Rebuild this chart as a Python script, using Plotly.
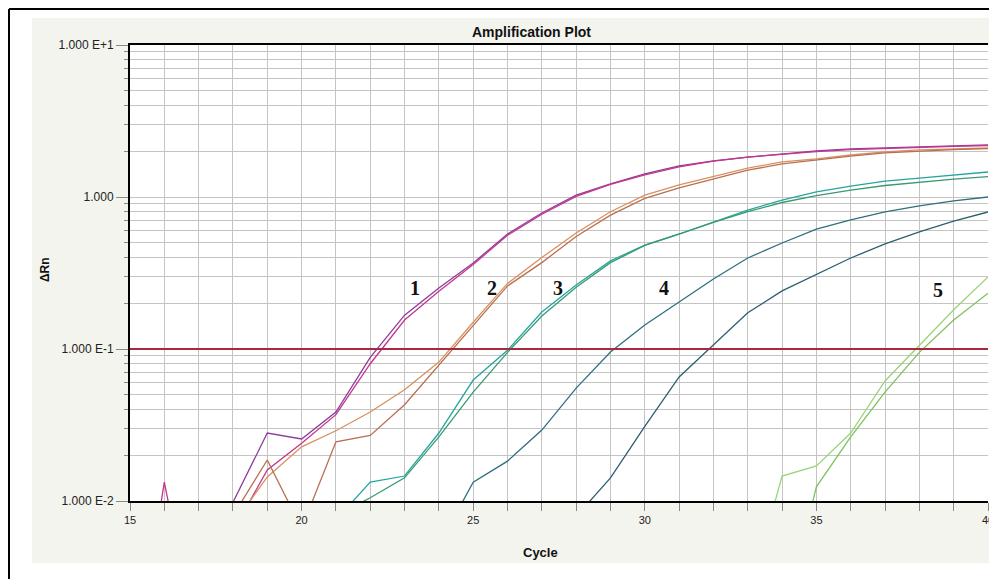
import numpy as np
import plotly.graph_objects as go

# ---------------- data ----------------
cycles = list(range(15, 41))

# sample 1 (two replicates)
s1a = [0.004, 0.005, 0.003, 0.0098, 0.028, 0.0256, 0.0385, 0.088, 0.167, 0.252, 0.368, 0.571, 0.785,
       1.03, 1.22, 1.42, 1.60, 1.73, 1.83, 1.92, 2.01, 2.07, 2.10, 2.13, 2.17, 2.20]
s1b = [0.0005, 0.0133, 0.001, 0.0063, 0.016, 0.024, 0.037, 0.080, 0.155, 0.240, 0.360, 0.560, 0.770,
       1.01, 1.21, 1.40, 1.58, 1.72, 1.83, 1.91, 1.99, 2.05, 2.09, 2.12, 2.15, 2.18]
# sample 2
s2a = [0.003, 0.004, 0.003, 0.007, 0.0144, 0.0227, 0.029, 0.0385, 0.054, 0.082, 0.150, 0.270, 0.400,
       0.580, 0.800, 1.03, 1.20, 1.36, 1.55, 1.70, 1.78, 1.89, 1.98, 2.04, 2.07, 2.10]
s2b = [0.002, 0.003, 0.004, 0.008, 0.0186, 0.0066, 0.0245, 0.027, 0.043, 0.078, 0.142, 0.260, 0.370,
       0.550, 0.760, 0.980, 1.15, 1.32, 1.50, 1.65, 1.75, 1.86, 1.95, 2.01, 2.05, 2.08]
# sample 3
s3a = [0.003, 0.002, 0.004, 0.003, 0.005, 0.004, 0.0075, 0.0133, 0.0146, 0.028, 0.0625, 0.098, 0.175,
       0.264, 0.380, 0.483, 0.571, 0.686, 0.820, 0.955, 1.08, 1.18, 1.27, 1.33, 1.40, 1.46]
s3b = [0.002, 0.003, 0.002, 0.004, 0.003, 0.005, 0.008, 0.0105, 0.0142, 0.0264, 0.052, 0.095, 0.165,
       0.255, 0.370, 0.480, 0.570, 0.680, 0.800, 0.920, 1.02, 1.11, 1.19, 1.25, 1.31, 1.36]
# sample 4
s4a = [0.003, 0.002, 0.003, 0.004, 0.002, 0.003, 0.004, 0.003, 0.004, 0.0051, 0.0133, 0.0183, 0.0293,
       0.0553, 0.0955, 0.144, 0.204, 0.289, 0.397, 0.498, 0.615, 0.706, 0.797, 0.873, 0.942, 1.00]
s4b = [0.002, 0.003, 0.002, 0.003, 0.004, 0.002, 0.003, 0.002, 0.004, 0.003, 0.002, 0.003, 0.004,
       0.0079, 0.0142, 0.031, 0.0655, 0.106, 0.173, 0.241, 0.311, 0.397, 0.491, 0.589, 0.695, 0.797]
# sample 5
s5a = [0.003, 0.002, 0.004, 0.003, 0.002, 0.003, 0.004, 0.002, 0.003, 0.002, 0.004, 0.003, 0.002,
       0.003, 0.004, 0.002, 0.003, 0.002, 0.0022, 0.0146, 0.017, 0.028, 0.0616, 0.106, 0.181, 0.298]
s5b = [0.002, 0.003, 0.002, 0.004, 0.003, 0.002, 0.003, 0.004, 0.002, 0.003, 0.002, 0.004, 0.003,
       0.002, 0.003, 0.002, 0.004, 0.003, 0.002, 0.0015, 0.0124, 0.0264, 0.052, 0.095, 0.155, 0.233]

series = [s1a, s1b, s2a, s2b, s3a, s3b, s4a, s4b, s5a, s5b]
series_colors = ["#8e3c9c", "#c4368c", "#d89060", "#b87050", "#25a5a0", "#3a9a70",
                 "#2f6f7f", "#2d5f70", "#9ad47a", "#80c060"]

threshold = 0.1

ytick_vals = [0.01, 0.1, 1, 10]
ytick_text = ["1.000 E-2", "1.000 E-1", "1.000", "1.000 E+1"]
xtick_labels = [15, 20, 25, 30, 35, 40]

label_text = ["1", "2", "3", "4", "5"]
label_cycle = [23.30, 25.55, 27.47, 30.56, 38.54]
label_rn = [0.252, 0.252, 0.252, 0.252, 0.245]

# ---------------- figure ----------------
W, H = 997, 579
OFF = 8                      # page body margin of the html page
L, R, T, B = 130, 988, 45, 501   # plot area in page pixels
PW, PH = R - L, B - T


def pxx(x):
    return (x - L) / PW


def pxy(y):
    return (B - y) / PH


fig = go.Figure()
for s, c in zip(series, series_colors):
    fig.add_trace(go.Scatter(x=cycles, y=s, mode="lines",
                             line=dict(color=c, width=1.3), showlegend=False, hoverinfo="skip"))

fig.add_trace(go.Scatter(x=[cycles[0], cycles[-1]], y=[threshold, threshold], mode="lines",
                         line=dict(color="#a8283c", width=2), showlegend=False, hoverinfo="skip"))

minor_vals = [k * 10.0 ** e for e in (-2, -1, 0) for k in range(2, 10)]

axis_font = dict(family="Arial, Liberation Sans, sans-serif", size=12, color="#222")

fig.update_layout(
    width=W, height=H,
    margin=dict(l=L - OFF, r=W - (R - OFF), t=T - OFF, b=H - (B - OFF), pad=0),
    paper_bgcolor="white", plot_bgcolor="white",
    showlegend=False,
    xaxis=dict(
        range=[15, 40], tickmode="array", tickvals=cycles,
        ticktext=[str(c) if c in xtick_labels else "" for c in cycles],
        ticks="outside", ticklen=8, tickcolor="#888", tickwidth=1,
        showgrid=True, gridcolor="#c4c4c4", gridwidth=1,
        showline=True, linecolor="black", linewidth=2, mirror=True,
        tickfont=dict(family="Arial, Liberation Sans, sans-serif", size=11, color="#222"),
        zeroline=False,
    ),
    yaxis=dict(
        type="log", range=[-2, 1], tickmode="array", tickvals=ytick_vals, ticktext=ytick_text,
        ticks="outside", ticklen=12, tickcolor="#888", tickwidth=1,
        showgrid=True, gridcolor="#c4c4c4", gridwidth=1,
        showline=True, linecolor="black", linewidth=2, mirror=False,
        tickfont=axis_font,
        minor=dict(tickmode="array", tickvals=minor_vals, ticks="outside", ticklen=4,
                   tickcolor="#888", showgrid=True, gridcolor="#c4c4c4", gridwidth=1),
        zeroline=False,
    ),
)

annotations = []
for t, cx, cy in zip(label_text, label_cycle, label_rn):
    annotations.append(dict(x=cx, y=np.log10(cy), xref="x", yref="y", text="<b>" + t + "</b>",
                            showarrow=False, xanchor="center", yanchor="middle",
                            font=dict(family="Times New Roman, Liberation Serif, serif", size=20,
                                      color="#111")))
annotations.append(dict(x=pxx(531), y=pxy(32), xref="paper", yref="paper",
                        text="<b>Amplification Plot</b>", showarrow=False,
                        xanchor="center", yanchor="middle",
                        font=dict(family="Arial, Liberation Sans, sans-serif", size=14, color="#111")))
annotations.append(dict(x=pxx(540), y=pxy(552), xref="paper", yref="paper",
                        text="<b>Cycle</b>", showarrow=False,
                        xanchor="center", yanchor="middle",
                        font=dict(family="Arial, Liberation Sans, sans-serif", size=13, color="#111")))
annotations.append(dict(x=pxx(45), y=pxy(270), xref="paper", yref="paper",
                        text="<b>ΔRn</b>", showarrow=False, textangle=-90,
                        xanchor="center", yanchor="middle",
                        font=dict(family="Arial, Liberation Sans, sans-serif", size=12, color="#111")))
fig.update_layout(annotations=annotations)

panel = "#f4f4ee"
shapes = [
    dict(type="rect", xref="paper", yref="paper", x0=pxx(32), x1=pxx(1010), y0=pxy(45), y1=pxy(18),
         fillcolor=panel, line=dict(width=0), layer="below"),
    dict(type="rect", xref="paper", yref="paper", x0=pxx(32), x1=pxx(130), y0=pxy(501), y1=pxy(45),
         fillcolor=panel, line=dict(width=0), layer="below"),
    dict(type="rect", xref="paper", yref="paper", x0=pxx(32), x1=pxx(1010), y0=pxy(563), y1=pxy(501),
         fillcolor=panel, line=dict(width=0), layer="below"),
    dict(type="rect", xref="paper", yref="paper", x0=pxx(990), x1=pxx(1010), y0=pxy(600), y1=pxy(10),
         fillcolor="white", line=dict(width=0), layer="above"),
    dict(type="line", xref="paper", yref="paper", x0=pxx(9), x1=pxx(9), y0=pxy(9), y1=pxy(600),
         line=dict(color="black", width=2), layer="above"),
    dict(type="line", xref="paper", yref="paper", x0=pxx(9), x1=pxx(1010), y0=pxy(9), y1=pxy(9),
         line=dict(color="black", width=2), layer="above"),
]
fig.update_layout(shapes=shapes)

fig.write_html("out.html")
